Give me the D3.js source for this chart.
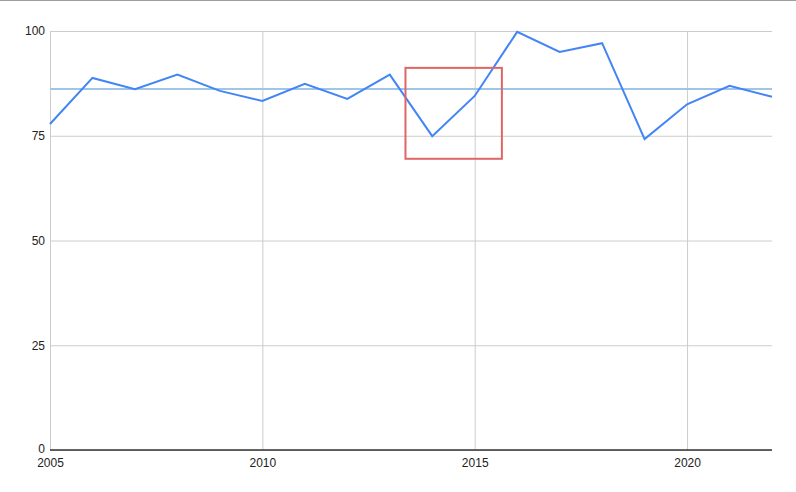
<!DOCTYPE html>
<html><head><meta charset="utf-8">
<script src="https://cdn.jsdelivr.net/npm/d3@7"></script>
<style>body{margin:0;background:#fff;}svg{display:block;}</style>
</head><body>
<svg id="c" width="796" height="492"></svg>
<script>
const years = [2005,2006,2007,2008,2009,2010,2011,2012,2013,2014,2015,2016,2017,2018,2019,2020,2021,2022];
const values = [77.8,88.8,86.1,89.6,85.7,83.3,87.4,83.8,89.6,74.9,84.5,99.8,95.0,97.1,74.2,82.5,86.9,84.3];
const xTicks = [2005,2010,2015,2020];
const yTicks = [0,25,50,75,100];
const highlight = {x0: 2013.37, x1: 2015.64, y0: 69.5, y1: 91.2};

const svg = d3.select("#c");
const W = 796, H = 492;
const m = {left:50, right:24, top:31, bottom:42};
const x = d3.scaleLinear().domain([2005,2022]).range([m.left, W - m.right]);
const y = d3.scaleLinear().domain([0,100]).range([H - m.bottom, m.top]);

svg.append("line").attr("x1",0).attr("x2",W).attr("y1",0.5).attr("y2",0.5)
  .attr("stroke","#9e9e9e").attr("stroke-width",1);

const font = "Arial, 'Liberation Sans', sans-serif";
const gy = svg.append("g").attr("transform",`translate(${m.left},0)`)
  .call(d3.axisLeft(y).tickValues(yTicks).tickSize(-(W - m.left - m.right)).tickPadding(5));
gy.select(".domain").remove();
gy.selectAll("line").attr("stroke","#cccccc");
gy.selectAll("text").attr("font-family",font).attr("font-size",12).attr("fill","#222");
gy.selectAll(".tick").filter(d => d === 0).select("text").attr("dy","0.2em");
const gx = svg.append("g").attr("transform",`translate(0,${H - m.bottom})`)
  .call(d3.axisBottom(x).tickValues(xTicks).tickFormat(d3.format("d")).tickSize(-(H - m.top - m.bottom)).tickPadding(8));
gx.select(".domain").remove();
gx.selectAll("line").attr("stroke","#cccccc");
gx.selectAll("text").attr("font-family",font).attr("font-size",12).attr("fill","#222");

svg.append("line").attr("x1",x(2005)).attr("x2",x(2022)).attr("y1",y(0)).attr("y2",y(0))
  .attr("stroke","#333").attr("stroke-width",1.5);

const meanVal = d3.mean(values);
svg.append("line").attr("x1",x(2005)).attr("x2",x(2022)).attr("y1",y(meanVal)).attr("y2",y(meanVal))
  .attr("stroke","#9fc5e8").attr("stroke-width",2);

const line = d3.line().x((d,i)=>x(years[i])).y(d=>y(d));
svg.append("path").datum(values).attr("d",line).attr("fill","none")
  .attr("stroke","#4285f4").attr("stroke-width",2).attr("stroke-linejoin","miter");

svg.append("rect").attr("x",x(highlight.x0)).attr("y",y(highlight.y1))
  .attr("width",x(highlight.x1)-x(highlight.x0)).attr("height",y(highlight.y0)-y(highlight.y1))
  .attr("fill","none").attr("stroke","#e06666").attr("stroke-width",2);
</script>
</body></html>
